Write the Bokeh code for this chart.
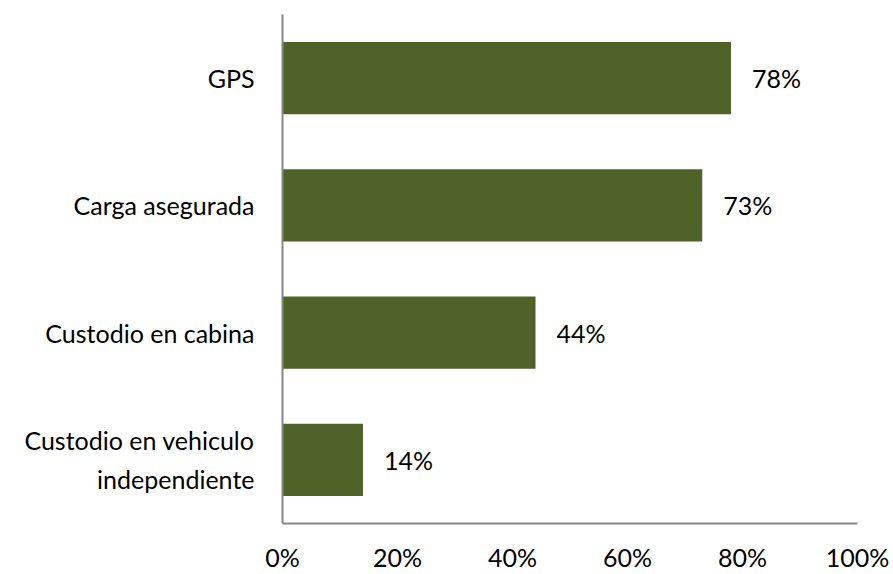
from bokeh.plotting import figure
from bokeh.models import Range1d, FactorRange, NumeralTickFormatter, FixedTicker, ColumnDataSource
from bokeh.core.properties import value
from bokeh.embed import file_html
from bokeh.resources import INLINE

categories = ["GPS", "Carga asegurada", "Custodio en cabina", "Custodio en vehiculo\nindependiente"]
values = [0.78, 0.73, 0.44, 0.14]
labels = ["78%", "73%", "44%", "14%"]
x_ticks = [0, 0.2, 0.4, 0.6, 0.8, 1.0]

FONT = "Lato"
FS = "25px"
BAR = "#4F6228"
AXIS = "#868686"

src = ColumnDataSource(dict(cat=categories, val=values, lab=labels))
factors = list(reversed(categories))

p = figure(width=893, height=574, output_backend="svg", toolbar_location=None,
           y_range=FactorRange(factors=factors),
           x_range=Range1d(0, 1),
           min_border_left=282, min_border_right=36, min_border_top=14, min_border_bottom=51)
p.outline_line_color = None
p.grid.grid_line_color = None
p.background_fill_color = "white"
p.border_fill_color = "white"

p.hbar(y="cat", right="val", left=0, height=0.566, source=src, fill_color=BAR, line_color=None)
p.text(x="val", y="cat", text="lab", source=src, x_offset=21, text_align="left",
       text_baseline="middle", text_font=value(FONT), text_font_size=FS, text_color="#000000")

for ax in (p.xaxis[0], p.yaxis[0]):
    ax.axis_line_color = AXIS
    ax.axis_line_width = 2
    ax.major_tick_line_color = None
    ax.minor_tick_line_color = None
    ax.major_label_text_font = FONT
    ax.major_label_text_font_size = FS
    ax.major_label_text_color = "#000000"

p.xaxis.ticker = FixedTicker(ticks=x_ticks)
p.xaxis.formatter = NumeralTickFormatter(format="0%")
p.xaxis.major_label_standoff = 12
p.xaxis.major_label_text_line_height = 0.9
p.yaxis.major_label_standoff = 22
p.yaxis.major_label_text_line_height = 1.3

open("out.html", "w").write(file_html(p, INLINE))
